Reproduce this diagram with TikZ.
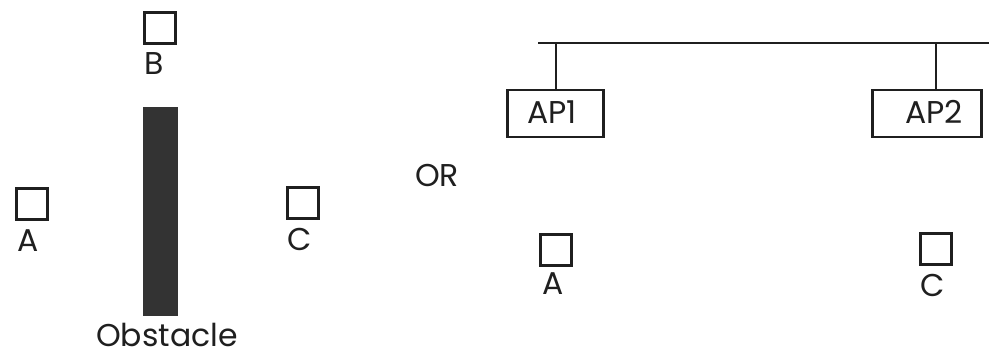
\documentclass[tikz,border=0pt]{standalone}
\usepackage{fontspec}
\setmainfont{Poppins}
\begin{document}
\begin{tikzpicture}[x=1pt,y=-1pt,
  station/.style={draw=black!88,line width=3pt,minimum size=31pt,inner sep=0pt},
  apbox/.style={draw=black!88,line width=2.4pt,minimum height=47pt,inner sep=0pt},
  lbl/.style={inner sep=0pt,anchor=base,font=\fontsize{31.5}{33}\selectfont,text=black!88},
  wire/.style={draw=black!88,line width=2pt}]
\useasboundingbox (0,0) rectangle (989,352);
% left scenario
\node[station] (Bl) at (160,28) {};
\node[lbl] (Blab) at (154,75) {B};
\node[draw=none,fill=black!80,minimum width=35pt,minimum height=209pt,inner sep=0pt] (obs) at (160.5,211.5) {};
\node[lbl] (obslab) at (167,347) {Obstacle};
\node[station] (Al) at (32,204) {};
\node[lbl] (Alab) at (28,252) {A};
\node[station] (Cl) at (302.5,203) {};
\node[lbl] (Clab) at (300,251) {C};
% OR
\node[lbl] (or) at (437,187) {OR};
% right scenario
\coordinate (busL) at (538,43);
\coordinate (busR) at (989,43);
\draw[wire] (busL) -- (busR);
\node[apbox,minimum width=96pt] (ap1) at (555.5,113.5) {};
\node[lbl] (ap1lab) at (552,124) {AP1};
\node[apbox,minimum width=109pt] (ap2) at (927,113.5) {};
\node[lbl] (ap2lab) at (934,124) {AP2};
\coordinate (d1) at (556,43);
\coordinate (d2) at (936,43);
\draw[wire] (d1) -- (d1 |- ap1.north);
\draw[wire] (d2) -- (d2 |- ap2.north);
\node[station] (Ar) at (556,250) {};
\node[lbl] (Arlab) at (553,295) {A};
\node[station] (Cr) at (936,249.5) {};
\node[lbl] (Crlab) at (933,297) {C};
\end{tikzpicture}
\end{document}
